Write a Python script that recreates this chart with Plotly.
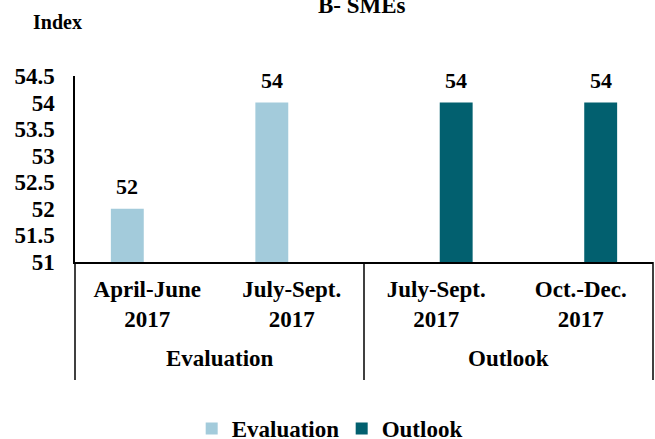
import plotly.graph_objects as go

groups = ["Evaluation", "Outlook"]
categories = ["April-June 2017 (E)", "July-Sept. 2017 (E)", "July-Sept. 2017 (O)", "Oct.-Dec. 2017 (O)"]
tick_labels = ["April-June<br>2017", "July-Sept.<br>2017", "July-Sept.<br>2017", "Oct.-Dec.<br>2017"]
evaluation_vals = [52, 54, None, None]
outlook_vals = [None, None, 54, 54]
y_ticks = [51, 51.5, 52, 52.5, 53, 53.5, 54, 54.5]

FONT = "Liberation Serif, Times New Roman, serif"
LIGHT = "#A3CBDB"
DARK = "#02606F"

W, H = 655, 439
ML, MR, MT, MB = 75, 2, 76, 177
BARGAP, BARGROUPGAP = 0.448, 0.175
plot_w = W - ML - MR
plot_h = H - MT - MB
half_slot = plot_w / len(categories) * (1 - BARGAP) / 4

fig = go.Figure()
fig.add_trace(go.Bar(x=categories, y=evaluation_vals, name="Evaluation",
                     marker=dict(color=LIGHT, line=dict(width=0))))
fig.add_trace(go.Bar(x=categories, y=outlook_vals, name="Outlook",
                     marker=dict(color=DARK, line=dict(width=0))))

annotations = []
for vals, shift in ((evaluation_vals, -half_slot), (outlook_vals, half_slot)):
    for c, v in zip(categories, vals):
        if v is None:
            continue
        annotations.append(dict(x=c, y=v, xref="x", yref="y", text=f"{v:g}",
                                showarrow=False, xanchor="center", yanchor="bottom",
                                xshift=shift, yshift=8,
                                font=dict(size=22, family=FONT, weight="bold", color="black")))

# group labels
for i, g in enumerate(groups):
    annotations.append(dict(x=(i + 0.5) / len(groups), y=-96 / plot_h, xref="paper", yref="paper",
                            text=g, showarrow=False, xanchor="center", yanchor="middle",
                            font=dict(size=23, family=FONT, weight="bold", color="black")))

annotations.append(dict(text="Index", xref="paper", yref="paper", x=(31 - ML) / plot_w,
                        y=1 + 54 / plot_h, xanchor="left", yanchor="middle", showarrow=False,
                        font=dict(size=20, family=FONT, weight="bold", color="black")))
annotations.append(dict(text="B- SMEs", xref="paper", yref="paper", x=0.497,
                        y=1 + 70 / plot_h, xanchor="center", yanchor="middle", showarrow=False,
                        font=dict(size=23, family=FONT, weight="bold", color="black")))

shapes = []
for i in range(len(groups) + 1):
    xp = i / len(groups)
    shapes.append(dict(type="line", xref="paper", yref="paper", x0=xp, x1=xp,
                       y0=0, y1=-118 / plot_h, line=dict(color="black", width=1.5)))

fig.update_layout(
    width=W, height=H,
    margin=dict(l=ML, r=MR, t=MT, b=MB, autoexpand=False),
    plot_bgcolor="white", paper_bgcolor="white",
    barmode="group", bargap=BARGAP, bargroupgap=BARGROUPGAP,
    font=dict(family=FONT, color="black", weight="bold"),
    showlegend=True,
    legend=dict(orientation="h", x=0.4614, xanchor="center", y=-0.895, yanchor="middle",
                font=dict(size=23, family=FONT, weight="bold"), entrywidth=105),
    annotations=annotations,
    shapes=shapes,
)
fig.update_yaxes(range=[51, 54.5], tickvals=y_ticks, showgrid=False, zeroline=False,
                 showline=True, linecolor="black", linewidth=1.5, automargin=False,
                 tickfont=dict(size=23, family=FONT, weight="bold"),
                 ticks="", ticklabelstandoff=14)
fig.update_xaxes(type="category", categoryorder="array", categoryarray=categories,
                 tickvals=categories, ticktext=tick_labels, automargin=False,
                 showgrid=False, showline=True, linecolor="black", linewidth=1.5,
                 tickfont=dict(size=23, family=FONT, weight="bold"), ticks="",
                 ticklabelstandoff=6)

fig.write_html("out.html", config={"displayModeBar": False},
               post_script="document.body.style.margin='0px';document.body.style.overflow='hidden';")
